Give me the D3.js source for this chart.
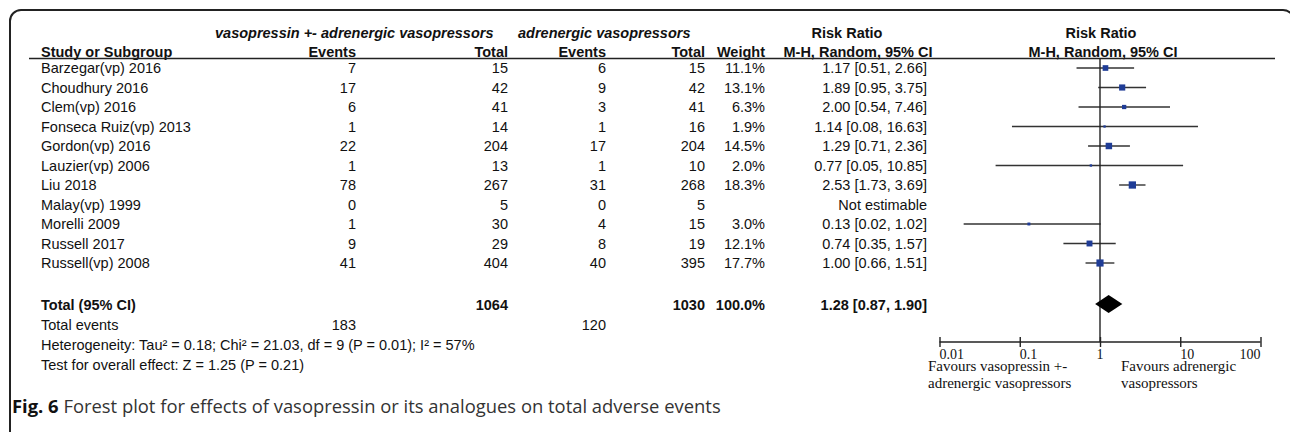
<!DOCTYPE html>
<html>
<head>
<meta charset="utf-8">
<script src="https://cdn.jsdelivr.net/npm/d3@7"></script>
<style>
  body { margin: 0; background: #fff; }
  svg { display: block; }
  text { font-family: "Liberation Sans", Arial, sans-serif; fill: #111; }
</style>
</head>
<body>
<svg width="1290" height="432"></svg>
<script>
// study rows
const studies = ["Barzegar(vp) 2016", "Choudhury 2016", "Clem(vp) 2016", "Fonseca Ruiz(vp) 2013",
  "Gordon(vp) 2016", "Lauzier(vp) 2006", "Liu 2018", "Malay(vp) 1999", "Morelli 2009",
  "Russell 2017", "Russell(vp) 2008"];
const expEvents = [7, 17, 6, 1, 22, 1, 78, 0, 1, 9, 41];
const expTotal = [15, 42, 41, 14, 204, 13, 267, 5, 30, 29, 404];
const ctlEvents = [6, 9, 3, 1, 17, 1, 31, 0, 4, 8, 40];
const ctlTotal = [15, 42, 41, 16, 204, 10, 268, 5, 15, 19, 395];
const weights = [11.1, 13.1, 6.3, 1.9, 14.5, 2.0, 18.3, null, 3.0, 12.1, 17.7];
const ratio = [1.17, 1.89, 2.00, 1.14, 1.29, 0.77, 2.53, null, 0.13, 0.74, 1.00];
const ciLow = [0.51, 0.95, 0.54, 0.08, 0.71, 0.05, 1.73, null, 0.02, 0.35, 0.66];
const ciHigh = [2.66, 3.75, 7.46, 16.63, 2.36, 10.85, 3.69, null, 1.02, 1.57, 1.51];

// pooled result
const pooledTotals = [1064, 1030];
const pooledEvents = [183, 120];
const pooledRatio = [1.28, 0.87, 1.90];
const axisTicks = [0.01, 0.1, 1, 10, 100];

const svg = d3.select("svg");

// frame
svg.append("rect")
    .attr("x", 10).attr("y", 10)
    .attr("width", 1284).attr("height", 520)
    .attr("rx", 11)
    .attr("fill", "none")
    .attr("stroke", "#222")
    .attr("stroke-width", 2);

const x = d3.scaleLog().domain([0.01, 100]).range([939.5, 1260.5]);
const y = d3.scalePoint().domain(studies).range([68, 263]);

const fs = "14.5px";
const col = { name: 41, ev1: 356, tot1: 508, ev2: 606, tot2: 705, wt: 765, rr: 927 };

// headers
const head = svg.append("g");
head.append("text").attr("x", 215).attr("y", 38)
    .attr("font-size", fs).attr("font-weight", "bold").attr("font-style", "italic")
    .text("vasopressin +- adrenergic vasopressors");
head.append("text").attr("x", 518).attr("y", 38)
    .attr("font-size", fs).attr("font-weight", "bold").attr("font-style", "italic")
    .text("adrenergic vasopressors");
head.append("text").attr("x", 847).attr("y", 38).attr("text-anchor", "middle")
    .attr("font-size", fs).attr("font-weight", "bold").text("Risk Ratio");
head.append("text").attr("x", 1101).attr("y", 38).attr("text-anchor", "middle")
    .attr("font-size", fs).attr("font-weight", "bold").text("Risk Ratio");

const sub = [
  { t: "Study or Subgroup", x: col.name, a: "start" },
  { t: "Events", x: col.ev1, a: "end" },
  { t: "Total", x: col.tot1, a: "end" },
  { t: "Events", x: col.ev2, a: "end" },
  { t: "Total", x: col.tot2, a: "end" },
  { t: "Weight", x: col.wt, a: "end" },
  { t: "M-H, Random, 95% CI", x: 858, a: "middle" },
  { t: "M-H, Random, 95% CI", x: 1103, a: "middle" }
];
head.selectAll(".sub").data(sub).enter().append("text")
    .attr("x", d => d.x).attr("y", 57)
    .attr("text-anchor", d => d.a)
    .attr("font-size", fs).attr("font-weight", "bold")
    .text(d => d.t);

head.append("line")
    .attr("x1", 29).attr("x2", 1275).attr("y1", 58.5).attr("y2", 58.5)
    .attr("stroke", "#222").attr("stroke-width", 1.6);

// study rows
const fmt2 = d3.format(".2f");
const rows = svg.selectAll(".row").data(studies).enter().append("g")
    .attr("transform", d => `translate(0,${y(d)})`);

function cell(sel, xpos, anchor, fn) {
  sel.append("text")
      .attr("x", xpos).attr("dy", "0.36em")
      .attr("text-anchor", anchor)
      .attr("font-size", fs)
      .text(fn);
}
cell(rows, col.name, "start", d => d);
cell(rows, col.ev1, "end", (d, i) => expEvents[i]);
cell(rows, col.tot1, "end", (d, i) => expTotal[i]);
cell(rows, col.ev2, "end", (d, i) => ctlEvents[i]);
cell(rows, col.tot2, "end", (d, i) => ctlTotal[i]);
cell(rows, col.wt, "end", (d, i) => weights[i] == null ? "" : weights[i].toFixed(1) + "%");
cell(rows, col.rr, "end", (d, i) => ratio[i] == null ? "Not estimable"
    : `${fmt2(ratio[i])} [${fmt2(ciLow[i])}, ${fmt2(ciHigh[i])}]`);

// forest marks
const est = studies.map((s, i) => ({ s, i })).filter(d => ratio[d.i] != null);
svg.selectAll(".ci").data(est).enter().append("line")
    .attr("x1", d => x(ciLow[d.i])).attr("x2", d => x(ciHigh[d.i]))
    .attr("y1", d => y(d.s)).attr("y2", d => y(d.s))
    .attr("stroke", "#333").attr("stroke-width", 1.4);

// null line
const axisY = 342;
svg.append("line")
    .attr("x1", x(1)).attr("x2", x(1)).attr("y1", 58).attr("y2", axisY)
    .attr("stroke", "#222").attr("stroke-width", 1.4);

const half = w => 0.85 * Math.sqrt(w);
svg.selectAll(".box").data(est).enter().append("rect")
    .attr("x", d => x(ratio[d.i]) - half(weights[d.i]))
    .attr("y", d => y(d.s) - half(weights[d.i]))
    .attr("width", d => 2 * half(weights[d.i]))
    .attr("height", d => 2 * half(weights[d.i]))
    .attr("fill", "#1f3c96");

// pooled row
const totY = 305;
const tot = svg.append("g").attr("transform", `translate(0,${totY})`);
const totCells = [
  { t: "Total (95% CI)", x: col.name, a: "start" },
  { t: pooledTotals[0], x: col.tot1, a: "end" },
  { t: pooledTotals[1], x: col.tot2, a: "end" },
  { t: "100.0%", x: col.wt, a: "end" },
  { t: `${fmt2(pooledRatio[0])} [${fmt2(pooledRatio[1])}, ${fmt2(pooledRatio[2])}]`, x: col.rr, a: "end" }
];
tot.selectAll("text").data(totCells).enter().append("text")
    .attr("x", d => d.x).attr("dy", "0.36em")
    .attr("text-anchor", d => d.a)
    .attr("font-size", fs).attr("font-weight", "bold")
    .text(d => d.t);

svg.append("path")
    .attr("d", `M${x(pooledRatio[1])},${totY - 1} L${x(pooledRatio[0])},${totY - 10} L${x(pooledRatio[2])},${totY - 1} L${x(pooledRatio[0])},${totY + 8} Z`)
    .attr("fill", "#000");

const foot = svg.append("g");
foot.append("text").attr("x", col.name).attr("y", 325).attr("dy", "0.36em").attr("font-size", fs).text("Total events");
foot.append("text").attr("x", col.ev1).attr("y", 325).attr("dy", "0.36em").attr("text-anchor", "end").attr("font-size", fs).text(pooledEvents[0]);
foot.append("text").attr("x", col.ev2).attr("y", 325).attr("dy", "0.36em").attr("text-anchor", "end").attr("font-size", fs).text(pooledEvents[1]);
foot.append("text").attr("x", col.name).attr("y", 345).attr("dy", "0.36em").attr("font-size", fs)
    .text("Heterogeneity: Tau\u00b2 = 0.18; Chi\u00b2 = 21.03, df = 9 (P = 0.01); I\u00b2 = 57%");
foot.append("text").attr("x", col.name).attr("y", 365).attr("dy", "0.36em").attr("font-size", fs)
    .text("Test for overall effect: Z = 1.25 (P = 0.21)");

// axis
const axis = d3.axisBottom(x).tickValues(axisTicks).tickSize(5).tickFormat("");
const ag = svg.append("g").attr("transform", `translate(0,${axisY})`).call(axis);
ag.select(".domain").attr("stroke", "#222").attr("stroke-width", 1.4).attr("d", `M${x(0.01)},0H${x(100)}`);
ag.selectAll(".tick line").attr("stroke", "#222").attr("stroke-width", 1.4).attr("y1", -5).attr("y2", 5);

const serif = "'Liberation Serif', 'Times New Roman', serif";
svg.selectAll(".tl").data(axisTicks).enter().append("text")
    .attr("x", d => x(d))
    .attr("y", 359)
    .attr("text-anchor", (d, i) => i === axisTicks.length - 1 ? "end" : (d === 1 ? "middle" : "start"))
    .attr("font-size", "14px")
    .style("font-family", serif)
    .text(d => d);

const fav = [
  { t: "Favours vasopressin +-", x: 928, y: 371 },
  { t: "adrenergic vasopressors", x: 928, y: 388 },
  { t: "Favours adrenergic", x: 1121, y: 371 },
  { t: "vasopressors", x: 1121, y: 388 }
];
svg.selectAll(".fav").data(fav).enter().append("text")
    .attr("x", d => d.x).attr("y", d => d.y)
    .attr("font-size", "15px")
    .style("font-family", serif)
    .text(d => d.t);

// caption
const cap = svg.append("text").attr("x", 12).attr("y", 413)
    .style("font-family", "'Open Sans', sans-serif").attr("font-size", "18.4px");
cap.append("tspan").attr("font-weight", "bold").text("Fig. 6");
cap.append("tspan").attr("fill", "#333").text(" Forest plot for effects of vasopressin or its analogues on total adverse events");
</script>
</body>
</html>
